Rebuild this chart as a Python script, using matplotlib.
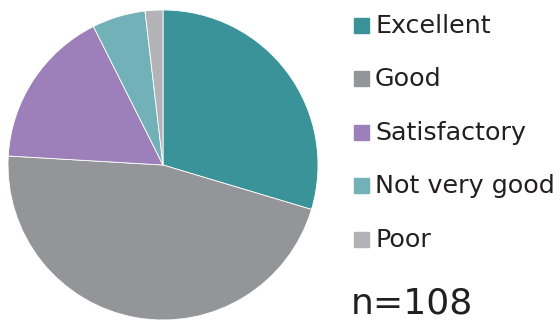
import matplotlib
matplotlib.use("Agg")
from matplotlib import pyplot as plt
from matplotlib.patches import Rectangle

labels = ["Excellent", "Good", "Satisfactory", "Not very good", "Poor"]
counts = [32, 50, 18, 6, 2]
colors = ["#3a9399", "#939598", "#9d7fba", "#72b1b7", "#b3b3b7"]
total_label = "n=108"

plt.rcParams['font.family'] = ['DejaVu Sans']

fig = plt.figure(figsize=(5.6, 3.2), dpi=100)
W, H = 560, 320

# pie centred at (163, 165) px, radius 155 px
ax = fig.add_axes([8 / W, 0 / H, 310 / W, 310 / H])
ax.pie(counts, colors=colors, startangle=90, counterclock=False,
       wedgeprops=dict(linewidth=0.6, edgecolor="white"))
ax.set_xlim(-1, 1)
ax.set_ylim(-1, 1)
ax.set_aspect("equal")
ax.axis("off")

# legend drawn by hand, baselines in px from top
baselines = [33, 86, 140, 193, 247]
for lab, col, y in zip(labels, colors, baselines):
    fig.patches.append(Rectangle((354 / W, 1 - y / H), 15 / W, 15 / H,
                                 color=col, transform=fig.transFigure))
    fig.text(375 / W, 1 - y / H, lab, fontsize=18.3, color="#231f20",
             va="baseline", ha="left")

fig.text(351 / W, 1 - 314 / H, total_label, fontsize=26, color="#231f20",
         va="baseline", ha="left")

fig.savefig("out.png", dpi=100)
